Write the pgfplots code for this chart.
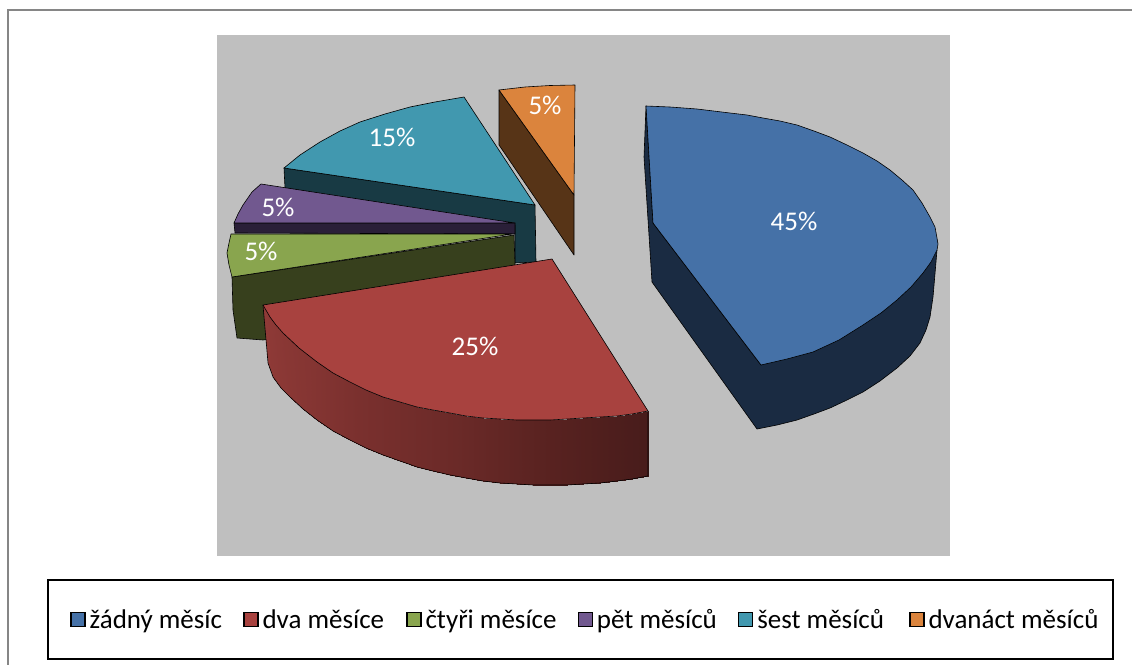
\documentclass[border=0pt]{standalone}
\usepackage{pgfplots}
\pgfplotsset{compat=1.18}
\usepackage{fontspec}
\setmainfont{Carlito}
\definecolor{blueT}{HTML}{4571A7}\definecolor{blueS}{HTML}{1A2B42}
\definecolor{redT}{HTML}{A8423F}
\definecolor{greenT}{HTML}{89A54E}\definecolor{greenS}{HTML}{37401D}
\definecolor{purpleT}{HTML}{71588F}\definecolor{purpleS}{HTML}{2A1F38}
\definecolor{tealT}{HTML}{4198AF}\definecolor{tealS}{HTML}{183A44}
\definecolor{orangeT}{HTML}{DB843D}\definecolor{orangeS}{HTML}{573417}
\definecolor{plotgray}{HTML}{BFBFBF}
\definecolor{framegray}{HTML}{868686}
\newcommand{\lab}[2]{\node[text=white,font=\fontsize{27}{31}\selectfont] at (axis cs:#1) {#2};}
\pgfplotsset{
  piece/.style={fill=#1,draw=black,line width=0.6pt,line join=round,forget plot},
  sq/.style={fill=#1,draw=black,line width=1.4pt},
}
\begin{document}
\begin{tikzpicture}
\path[use as bounding box] (0,0) rectangle (1132pt,664pt);
\begin{axis}[
  scale only axis, width=1132pt, height=664pt,
  xmin=0, xmax=1132, ymin=0, ymax=664, y dir=reverse,
  hide axis, clip=true,
  colormap={redside}{rgb255=(143,58,55) rgb255=(122,48,46) rgb255=(107,42,40) rgb255=(88,34,32) rgb255=(72,28,27)},
  legend columns=6,
  legend cell align=left,
  legend style={at={(axis cs:70,619.5)},anchor=west,draw=none,fill=none,inner sep=0pt,
    font=\fontsize{27}{31}\selectfont,
    /tikz/column 2/.style={column sep=17pt},
    /tikz/column 4/.style={column sep=18pt},
    /tikz/column 6/.style={column sep=17pt},
    /tikz/column 8/.style={column sep=17pt},
    /tikz/column 10/.style={column sep=21pt},
    nodes={inner xsep=4pt,inner ysep=0pt}},
  legend image code/.code={\draw[#1] (0pt,-7pt) rectangle (14pt,7pt);},
]
% frame and panels
\addplot[draw=framegray,line width=2pt,forget plot] coordinates {(8,680)(8,10)(1140,10)};
\addplot[fill=plotgray,draw=none,forget plot] coordinates {(217,35)(950,35)(950,556)(217,556)} --cycle;
\addplot[fill=white,draw=black,line width=1.5pt,forget plot] coordinates {(48,580)(1113,580)(1113,659)(48,659)} --cycle;
% orange slice: 5 %
\addplot[piece=orangeS] coordinates {(499,90)(499,145)(574,255)(574,195)} --cycle;
\addplot[piece=orangeT] coordinates {(499,90)(525,87)(550,85.5)(575,85)(574,195)} --cycle;
% teal slice: 15 %
\addplot[piece=tealS] coordinates {(284,168)(535,205)(536,262)(515,263)(515,225)(285,188)} --cycle;
\addplot[piece=tealT] coordinates {(464,97)(435,102)(410,107)(385,114)(360,122)(340,131)(320,142)(300,155)(284,168)(535,205)} --cycle;
% purple slice: 5 %
\addplot[piece=purpleS] coordinates {(234,223)(515,223)(515,234)(235,233)} --cycle;
\addplot[piece=purpleT] coordinates {(261,184)(252,192)(243,205)(238,214)(234,223)(515,223)} --cycle;
% green slice: 5 %
\addplot[piece=greenS] coordinates {(232,277)(514,235)(515,265)(515,300)(263,340)(237,338)(233,310)} --cycle;
\addplot[piece=greenT] coordinates {(231,234)(229,243)(227,253)(229,265)(232,277)(512,234)} --cycle;
% red slice: 25 %
\addplot[patch,patch type=rectangle,shader=interp,forget plot,point meta=\thisrow{m}] table {
x y m
263 305 263
268 363 263
273 377 273
270 317 273
270 317 273
273 377 273
281 388 281
276 325 281
276 325 281
281 388 281
290 397 290
283 333 290
283 333 290
290 397 290
303 409 303
299 348 303
299 348 303
303 409 303
317 420 317
317 362 317
317 362 317
317 420 317
333 431 333
333 373 333
333 373 333
333 431 333
350 440 350
350 382 350
350 382 350
350 440 350
366 448 366
366 390 366
366 390 366
366 448 366
383 455 383
383 397 383
383 397 383
383 455 383
400 461 400
400 402 400
400 402 400
400 461 400
417 467 417
417 407 417
417 407 417
417 467 417
433 471 433
433 410 433
433 410 433
433 471 433
450 475 450
450 413 450
450 413 450
450 475 450
466 478 466
466 416 466
466 416 466
466 478 466
483 481 483
483 418 483
483 418 483
483 481 483
500 483 500
500 419 500
500 419 500
500 483 500
517 484 517
517 420 517
517 420 517
517 484 517
533 485 533
533 420 533
533 420 533
533 485 533
550 485 550
550 420 550
550 420 550
550 485 550
567 485 567
567 419 567
567 419 567
567 485 567
583 484 583
583 418 583
583 418 583
583 484 583
600 483 600
600 417 600
600 417 600
600 483 600
617 481 617
617 416 617
617 416 617
617 481 617
632 479 632
632 414 632
632 414 632
632 479 632
648 476 648
648 411 648
};
\addplot[draw=black,line width=0.6pt,forget plot] coordinates {(263,305)(268,363)(273,377)(281,388)(290,397)(303,409)(317,420)(333,431)(350,440)(366,448)(383,455)(400,461)(417,467)(433,471)(450,475)(466,478)(483,481)(500,483)(517,484)(533,485)(550,485)(567,485)(583,484)(600,483)(617,481)(632,479)(648,476)(648,411)};
\addplot[piece=redT] coordinates {(552,259)(263,305)(270,317)(276,325)(283,333)(299,348)(317,362)(333,373)(350,382)(366,390)(383,397)(400,402)(417,407)(433,410)(450,413)(466,416)(483,418)(500,419)(517,420)(533,420)(550,420)(567,419)(583,418)(600,417)(617,416)(632,414)(648,411)} --cycle;
% blue slice: 45 %
\addplot[piece=blueS] coordinates {(646,106)(644,157)(652,282)(757,429)(777,425)(797,420)(814,414)(830,408)(847,400)(863,392)(880,381)(897,368)(910,356)(920,343)(926,330)(930,317)(933,297)(937,250)(761,365)(653,223)} --cycle;
\addplot[piece=blueT] coordinates {(646,106)(653,223)(761,365)(787,359)(813,352)(839,340)(863,325)(881,313)(897,300)(911,287)(923,273)(931,262)(937,250)(938,244)(937,238)(935,227)(930,217)(922,203)(913,190)(902,180)(890,170)(877,161)(863,153)(847,145)(830,137)(814,131)(797,125)(780,121)(763,118)(747,115)(730,113)(697,109)(670,107)} --cycle;
\lab{794,221}{45\%}
\lab{475,346}{25\%}
\lab{392,137}{15\%}
\lab{545,105}{5\%}
\lab{278,207}{5\%}
\lab{261,251}{5\%}
\addlegendimage{sq=blueT}\addlegendentry{žádný měsíc}
\addlegendimage{sq=redT}\addlegendentry{dva měsíce}
\addlegendimage{sq=greenT}\addlegendentry{čtyři měsíce}
\addlegendimage{sq=purpleT}\addlegendentry{pět měsíců}
\addlegendimage{sq=tealT}\addlegendentry{šest měsíců}
\addlegendimage{sq=orangeT}\addlegendentry{dvanáct měsíců}
\end{axis}
\end{tikzpicture}
\end{document}
